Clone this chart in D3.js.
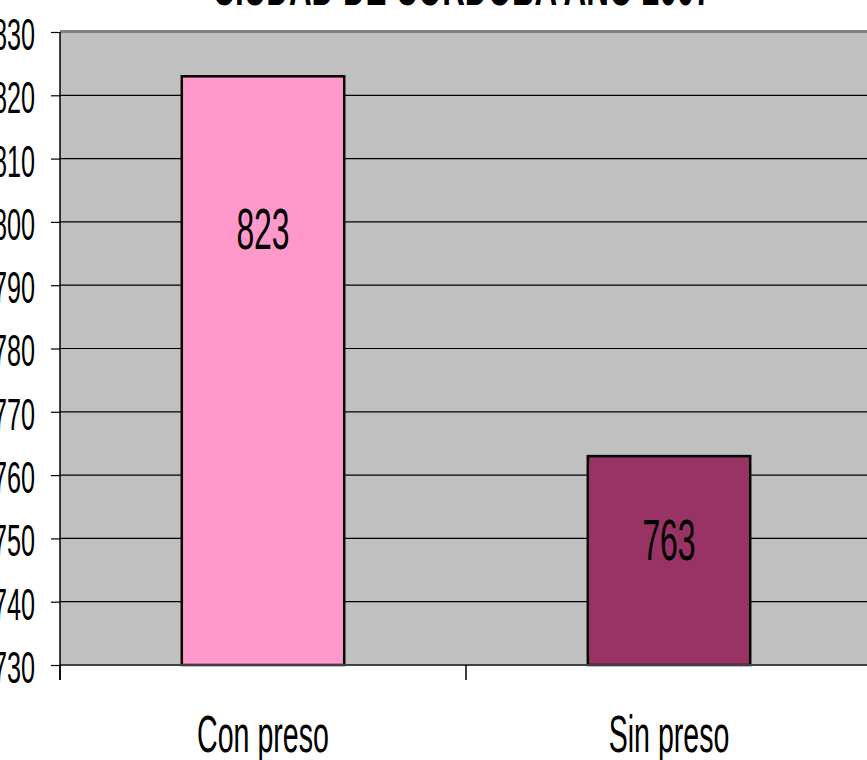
<!DOCTYPE html>
<html>
<head>
<meta charset="utf-8">
<script src="https://cdn.jsdelivr.net/npm/d3@7"></script>
<style>
  body { margin: 0; background: white; }
  svg { display: block; }
  text { font-family: "Liberation Sans", Arial, sans-serif; }
</style>
</head>
<body>
<div id="chart"></div>
<script>
const title = "CIUDAD DE CORDOBA AÑO 2007";
const categories = ["Con preso", "Sin preso"];
const values = [823, 763];
const bar_colors = ["#ff99cc", "#993366"];
const y_ticks = [730, 740, 750, 760, 770, 780, 790, 800, 810, 820, 830];

const width = 867, height = 760;
const squash = 0.56; // the whole picture is narrow, text looks condensed
const plot = { left: 60, right: 872, top: 32, bottom: 665 };

const svg = d3.select("#chart").append("svg")
    .attr("width", width)
    .attr("height", height);

const x = d3.scaleBand()
    .domain(categories)
    .range([plot.left, plot.right])
    .padding(0);

const y = d3.scaleLinear()
    .domain([730, 830])
    .range([plot.bottom, plot.top]);

// plot background
svg.append("rect")
    .attr("x", plot.left)
    .attr("y", plot.top)
    .attr("width", plot.right - plot.left)
    .attr("height", plot.bottom - plot.top)
    .attr("fill", "#c0c0c0");

// gridlines
svg.append("g")
    .selectAll("line")
    .data(y_ticks.filter(d => d > 730 && d < 830))
    .enter()
    .append("line")
    .attr("x1", plot.left)
    .attr("x2", plot.right)
    .attr("y1", d => y(d))
    .attr("y2", d => y(d))
    .attr("stroke", "black")
    .attr("stroke-width", 1.2);

// top border of the plot area
svg.append("line")
    .attr("x1", plot.left).attr("x2", plot.right)
    .attr("y1", y(830) - 0.5).attr("y2", y(830) - 0.5)
    .attr("stroke", "#808080")
    .attr("stroke-width", 3);

// bars
const bar_w = x.bandwidth() * 0.4;
svg.append("g")
    .selectAll("rect")
    .data(values)
    .enter()
    .append("rect")
    .attr("x", (d, i) => x(categories[i]) + (x.bandwidth() - bar_w) / 2)
    .attr("y", d => y(d))
    .attr("width", bar_w)
    .attr("height", d => y(730) - y(d))
    .attr("fill", (d, i) => bar_colors[i])
    .attr("stroke", "black")
    .attr("stroke-width", 2.5);

// bottom axis line
svg.append("line")
    .attr("x1", plot.left).attr("x2", plot.right)
    .attr("y1", y(730)).attr("y2", y(730))
    .attr("stroke", "#404040")
    .attr("stroke-width", 2);

// y axis
const y_axis = svg.append("g")
    .attr("transform", `translate(${plot.left},0)`)
    .call(d3.axisLeft(y).tickValues(y_ticks).tickSize(9).tickSizeOuter(0).tickFormat(d3.format("d")));
y_axis.select(".domain").attr("stroke", "black").attr("stroke-width", 1.5)
    .attr("d", `M0,${plot.top}V${plot.bottom + 15}`);
y_axis.selectAll(".tick line").attr("stroke", "black").attr("stroke-width", 1.2);
y_axis.selectAll(".tick text").remove();
y_axis.selectAll(".tick")
    .append("g")
    .attr("transform", `translate(-25,2) scale(${squash},1)`)
    .append("text")
    .attr("text-anchor", "end")
    .attr("dominant-baseline", "central")
    .attr("font-size", 45)
    .attr("fill", "black")
    .text(d => d);

// x axis ticks (between categories)
svg.append("g")
    .selectAll("line")
    .data([plot.left, x(categories[1])])
    .enter()
    .append("line")
    .attr("x1", d => d).attr("x2", d => d)
    .attr("y1", plot.bottom).attr("y2", plot.bottom + 15)
    .attr("stroke", "black")
    .attr("stroke-width", 1.5);

// category labels
svg.append("g")
    .selectAll("g")
    .data(categories)
    .enter()
    .append("g")
    .attr("transform", d => `translate(${x(d) + x.bandwidth() / 2},752) scale(${squash},1)`)
    .append("text")
    .attr("text-anchor", "middle")
    .attr("font-size", 51)
    .attr("fill", "black")
    .text(d => d);

// value labels inside the bars
const label_drop = [153, 84];
svg.append("g")
    .selectAll("g")
    .data(values)
    .enter()
    .append("g")
    .attr("transform", (d, i) => `translate(${x(categories[i]) + x.bandwidth() / 2},${y(d) + label_drop[i]}) scale(${squash},1)`)
    .append("text")
    .attr("text-anchor", "middle")
    .attr("dominant-baseline", "central")
    .attr("font-size", 57)
    .attr("fill", "black")
    .text(d => d);

// title, cut at the top edge
svg.append("g")
    .attr("transform", `translate(462,5) scale(${squash},1)`)
    .append("text")
    .attr("text-anchor", "middle")
    .attr("font-size", 56)
    .attr("font-weight", "bold")
    .attr("fill", "black")
    .text(title);
</script>
</body>
</html>
